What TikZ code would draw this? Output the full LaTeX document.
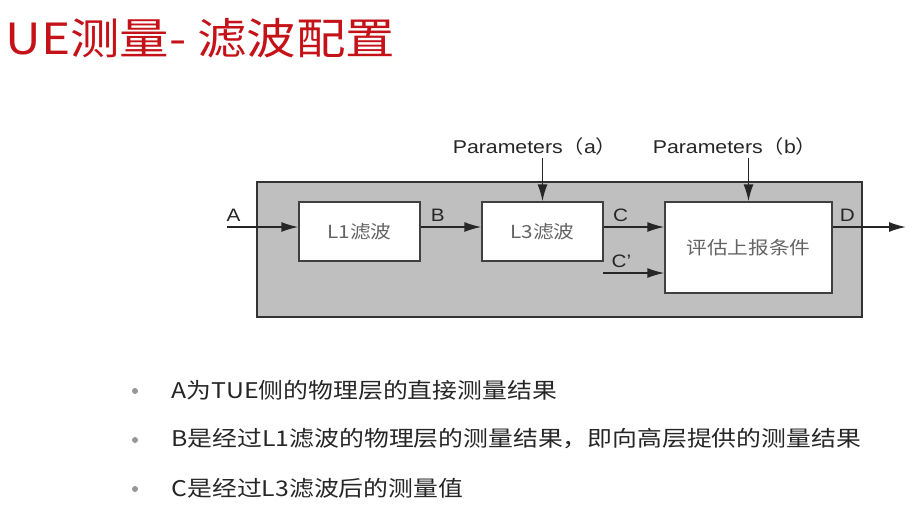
\documentclass[tikz,border=0pt]{standalone}
\usepackage{fontspec}
\setmainfont[FakeStretch=1.15]{Liberation Sans}
\newfontfamily\cjk[FakeStretch=1.15]{Noto Sans CJK SC}
\usetikzlibrary{arrows.meta,positioning}
\definecolor{titlered}{RGB}{196,18,24}
\definecolor{panelgray}{RGB}{191,191,191}
\definecolor{boxgray}{RGB}{100,100,100}
\definecolor{dotgray}{RGB}{150,150,150}

\begin{document}
\begin{tikzpicture}[x=1pt,y=-1pt,>={Latex[length=17pt,width=10pt]},
  block/.style={draw=black!75,fill=white,line width=1.4pt,font=\cjk\fontsize{18}{20}\selectfont,text=boxgray},
  sig/.style={->,line width=1.5pt,black!85},
  sigtag/.style={font=\fontsize{18}{20}\selectfont,text=black!85},
  param/.style={font=\fontsize{18.5}{20}\selectfont,text=black!85},
  bullet/.style={circle,fill=dotgray,inner sep=0pt,minimum size=6pt},
  item/.style={anchor=west,font=\cjk\fontsize{21.6}{26}\selectfont,text=black!85}]
\useasboundingbox (0,0) rectangle (917,512);
\node[anchor=west,font=\cjk\fontsize{43}{48}\selectfont,text=titlered] (title) at (2,38) {UE测量- 滤波配置};
% filter chain
\node[draw=black!80,fill=panelgray,line width=1.6pt,minimum width=605pt,minimum height=135pt] (frame) at (559.5,249.5) {};
\node[block,minimum width=121pt,minimum height=59pt] (l1) at (359.5,231.5) {L1滤波};
\node[block,minimum width=121pt,minimum height=59pt] (l3) at (542.5,231.5) {L3滤波};
\node[block,minimum width=167pt,minimum height=91pt] (eval) at (748.5,247.5) {评估上报条件};
\node[param] (pa) at (535,146) {Parameters{\cjk（}a{\cjk）}};
\node[param] (pb) at (735,146) {Parameters{\cjk（}b{\cjk）}};
\coordinate (ain) at (227,227);
\coordinate (cin) at (603,273);
\coordinate (dout) at (906,227);
\draw[sig] (ain)--(l1.west |- ain) node[pos=0.09,above=1pt,sigtag] {A};
\draw[sig] (l1.east |- ain)--(l3.west |- ain) node[pos=0.28,above=1pt,sigtag] {B};
\draw[sig] (l3.east |- ain)--(eval.west |- ain) node[pos=0.28,above=1pt,sigtag] {C};
\draw[sig] (cin)--(eval.west |- cin) node[pos=0.3,above=1pt,sigtag] {C’};
\draw[sig] (eval.east |- ain)--(dout) node[pos=0.2,above=1pt,sigtag] {D};
\draw[sig] (pa.south -| l3.north)--(l3.north);
\draw[sig] (pb.south -| eval.north)--(eval.north);
% notes
\node[bullet] (d1) at (135,391) {};
\node[bullet] (d2) at (135,440) {};
\node[bullet] (d3) at (135,489) {};
\node[item] (t1) at (168,390) {A为TUE侧的物理层的直接测量结果};
\node[item] (t2) at (168,439) {B是经过L1滤波的物理层的测量结果，即向高层提供的测量结果};
\node[item] (t3) at (168,488) {C是经过L3滤波后的测量值};
\end{tikzpicture}
\end{document}
